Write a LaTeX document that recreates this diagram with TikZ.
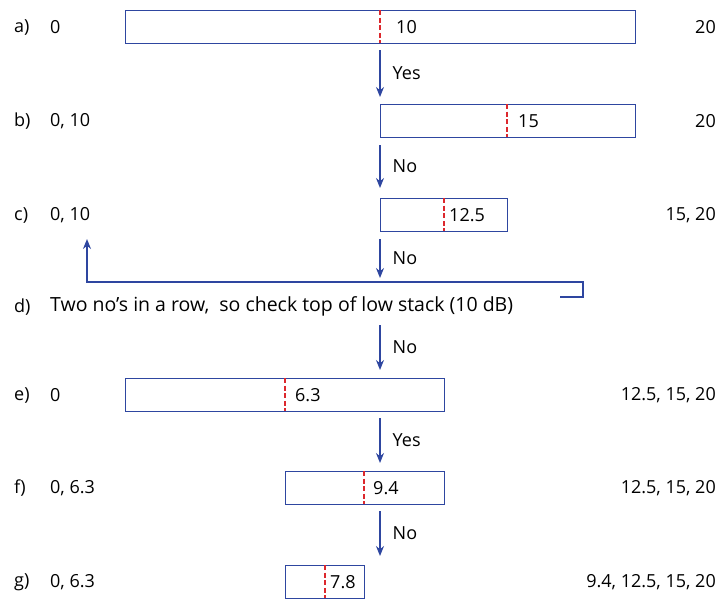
\documentclass[tikz,border=0pt]{standalone}
\usepackage{fontspec}
\setmainfont{Open Sans}
\usetikzlibrary{arrows.meta,positioning}
\definecolor{barblue}{RGB}{46,70,160}
\definecolor{cutred}{RGB}{220,40,45}
\tikzset{
  bar/.style={draw=barblue, line width=1.4pt, inner sep=0pt, anchor=north west},
  cut/.style={draw=cutred, line width=2pt, dash pattern=on 5pt off 2.6pt},
  txt/.style={inner sep=0pt, font=\fontsize{18}{21}\selectfont},
  flow/.style={draw=barblue, line width=1.4pt, -{Stealth[length=10pt,width=8pt]}},
}
\begin{document}
\begin{tikzpicture}[x=1pt,y=-1pt]
    \useasboundingbox (0,0) rectangle (720,598);
    %bars
    \node[bar, minimum width=510pt, minimum height=33pt] (a) at (125,10) {};
    \node[bar, minimum width=255pt, minimum height=33pt] (b) at (380,104) {};
    \node[bar, minimum width=127pt, minimum height=33pt] (c) at (380,198) {};
    \node[bar, minimum width=319pt, minimum height=33pt] (e) at (125,378) {};
    \node[bar, minimum width=159pt, minimum height=33pt] (f) at (285,471) {};
    \node[bar, minimum width=79pt, minimum height=33pt] (g) at (285,565) {};
    %cuts
    \draw[cut] (380,10) -- (380,43);
    \draw[cut] (507,104) -- (507,137);
    \draw[cut] (444,198) -- (444,231);
    \draw[cut] (285,378) -- (285,411);
    \draw[cut] (364,471) -- (364,504);
    \draw[cut] (325,565) -- (325,598);
    \node[txt, anchor=west] (av) at (396,27) {10};
    \node[txt, anchor=west] (bv) at (518,121) {15};
    \node[txt, anchor=west] (cv) at (449,215) {12.5};
    \node[txt, anchor=west] (ev) at (295,395) {6.3};
    \node[txt, anchor=west] (fv) at (373,488) {9.4};
    \node[txt, anchor=west] (gv) at (330,582) {7.8};
    %row letters
    \node[txt, anchor=west] (a0) at (14,27) {a)};
    \node[txt, anchor=west] (b0) at (14,121) {b)};
    \node[txt, anchor=west] (c0) at (14,215) {c)};
    \node[txt, anchor=west] (d0) at (14,307) {d)};
    \node[txt, anchor=west] (e0) at (14,395) {e)};
    \node[txt, anchor=west] (f0) at (14,488) {f)};
    \node[txt, anchor=west] (g0) at (14,582) {g)};
    %low stack
    \node[txt, anchor=west] (al) at (50,27) {0};
    \node[txt, anchor=west] (bl) at (50,121) {0, 10};
    \node[txt, anchor=west] (cl) at (50,215) {0, 10};
    \node[txt, anchor=west, font=\fontsize{19.5}{23}\selectfont] (dl) at (50,306) {Two no’s in a row,\ \ so check top of low stack (10 dB)};
    \node[txt, anchor=west] (el) at (50,395) {0};
    \node[txt, anchor=west] (fl) at (50,488) {0, 6.3};
    \node[txt, anchor=west] (gl) at (50,582) {0, 6.3};
    %high stack
    \node[txt, anchor=east] (ar) at (716,27) {20};
    \node[txt, anchor=east] (br) at (716,121) {20};
    \node[txt, anchor=east] (cr) at (716,215) {15, 20};
    \node[txt, anchor=east] (er) at (716,395) {12.5, 15, 20};
    \node[txt, anchor=east] (fr) at (716,488) {12.5, 15, 20};
    \node[txt, anchor=east] (gr) at (716,582) {9.4, 12.5, 15, 20};
    %edges
    \coordinate (d1) at (380,278);
    \coordinate (d2) at (380,325);
    \draw[flow] (380,50) -- (380,97) node[txt, midway, right=12pt] {Yes};
    \draw[flow] (380,145) -- (380,188) node[txt, midway, right=12pt] {No};
    \draw[flow] (380,239) -- (d1) node[txt, midway, right=12pt] {No};
    \draw[flow] (d2) -- (380,370) node[txt, midway, right=12pt] {No};
    \draw[flow] (380,418) -- (380,463) node[txt, midway, right=12pt] {Yes};
    \draw[flow] (380,511) -- (380,556) node[txt, midway, right=12pt] {No};
    %back to low stack
    \coordinate (r0) at (560,297);
    \draw[flow] (r0) -- (583,297) -- (583,282) -- (87,282) -- (87,239);
\end{tikzpicture}
\end{document}
